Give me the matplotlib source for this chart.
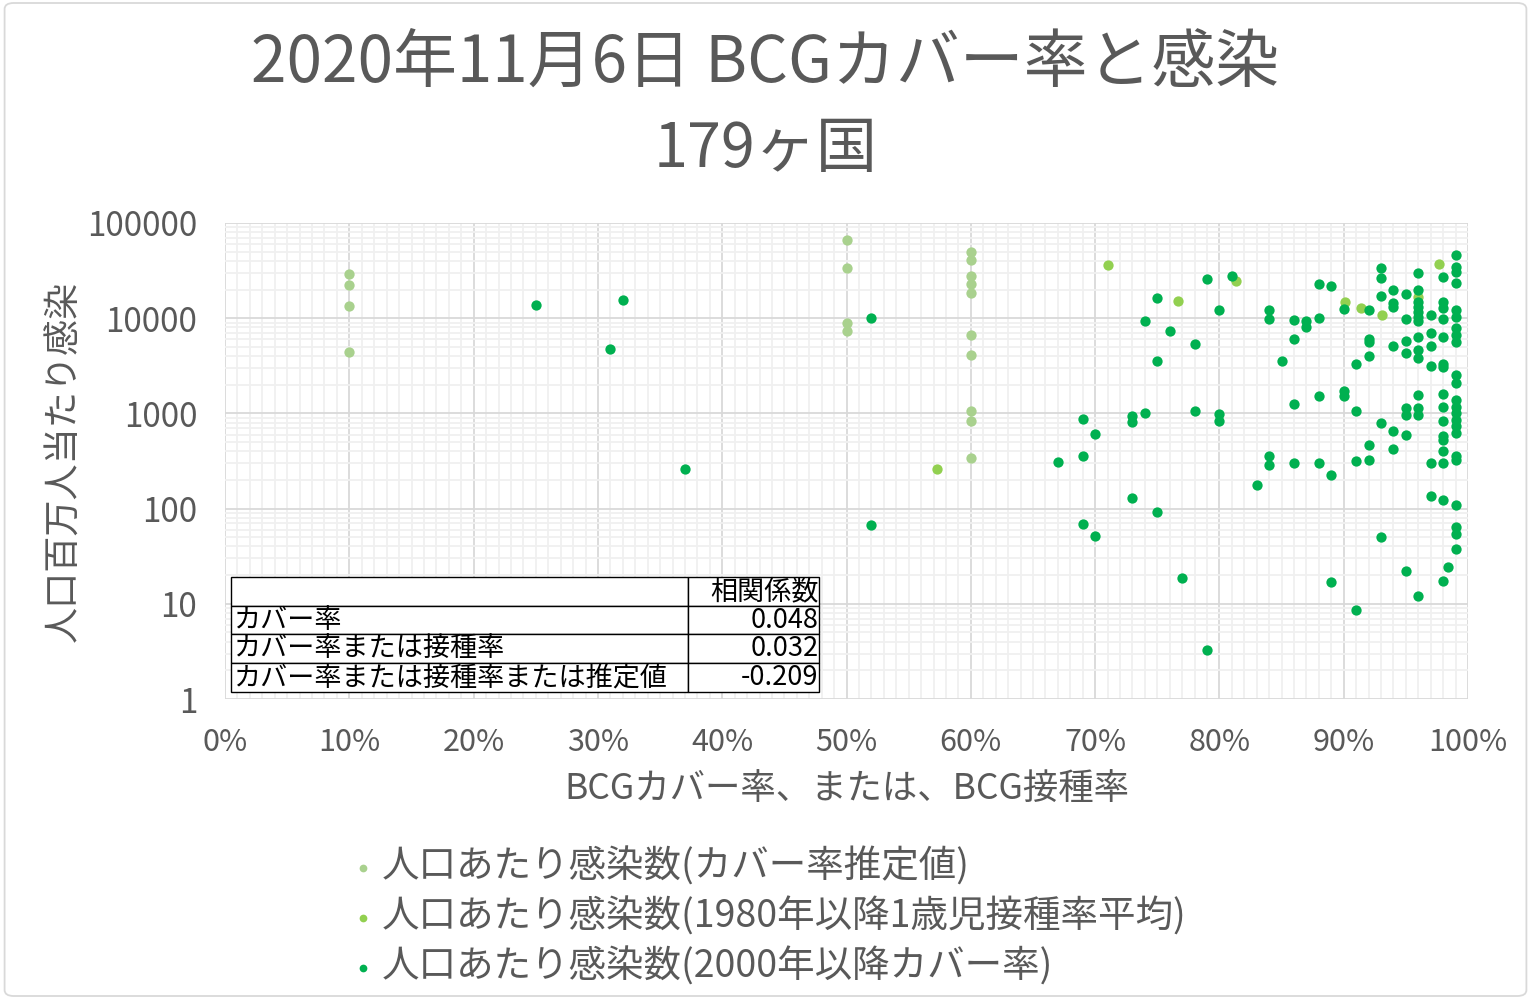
import numpy as np
import matplotlib.pyplot as plt
from matplotlib.ticker import FixedLocator, MultipleLocator, LogLocator, NullFormatter
from matplotlib.patches import FancyBboxPatch

plt.rcParams['font.family'] = ['Noto Sans CJK JP', 'DejaVu Sans']

GRAY = '#595959'

# BCG coverage (%) and infections per million people
est_x = [10, 10, 10, 10, 50, 50, 50, 50,
         60, 60, 60, 60, 60, 60, 60, 60, 60, 60]
est_y = [29200, 22300, 13550, 4430, 66300, 34000, 9000, 7360,
         49200, 40900, 28000, 22900, 18400, 6730, 4150, 1065, 822, 336]

vac_x = [57.3, 71, 76.7, 81.3, 90.1, 91.4, 93.1, 96, 97.7]
vac_y = [262, 36200, 15200, 24600, 14900, 12900, 10830, 16600, 36800]

cov_x = [25, 32, 31, 37, 52, 52,
         67, 69, 69, 69, 70, 70,
         73, 73, 73, 74, 74, 75, 75, 75, 76, 77, 78, 78, 79, 79, 80, 80, 80, 81,
         83, 84, 84, 84, 84, 85, 86, 86, 86, 86, 87, 87, 88, 88, 88, 88, 89, 89, 89,
         90, 90, 90, 91, 91, 91, 91, 92, 92, 92, 92, 92, 92,
         93, 93, 93, 93, 93, 94, 94, 94, 94, 94, 94,
         95, 95, 95, 95, 95, 95, 95, 95,
         96, 96, 96, 96, 96, 96, 96, 96, 96, 96, 96, 96, 96, 96,
         97, 97, 97, 97, 97, 97,
         98, 98, 98, 98, 98, 98, 98, 98, 98, 98, 98, 98, 98, 98, 98, 98, 98.4,
         99, 99, 99, 99, 99, 99, 99, 99, 99, 99, 99, 99, 99, 99, 99, 99, 99, 99,
         99, 99, 99, 99, 99]
cov_y = [13800, 15560, 4760, 262, 10070, 67.8,
         305, 863, 359, 69.5, 611, 51,
         950, 803, 128, 1000, 9440, 16330, 3560, 92.7, 7410, 18.8, 5370, 1065,
         25800, 3.25, 12200, 984, 836, 28000,
         178, 12200, 9840, 353, 284, 3590, 9600, 6070, 1240, 301, 9230, 8050,
         22700, 10150, 1540, 301, 22000, 227, 16.8,
         12500, 1700, 1510, 3310, 1065, 313, 8.55, 12200, 6070, 5600, 4050, 460, 320,
         33950, 26650, 17300, 791, 50, 19800, 14360, 13240, 5120, 646, 425,
         17850, 9840, 5690, 4360, 1135, 966, 596, 22.3,
         30100, 19800, 14900, 13240, 11720, 10400, 9230, 6310, 4650, 3800, 1570,
         1135, 966, 12.2,
         10830, 7060, 5120, 3160, 301, 136,
         27300, 14900, 12730, 9840, 6410, 3310, 3060, 1605, 1180, 836, 573, 525,
         398, 301, 122, 17.5, 24.2,
         46200, 34800, 30800, 23300, 12200, 10400, 7970, 6680, 5600, 2540, 2080,
         1390, 1180, 1007, 857, 729, 621, 353, 326, 110, 63.5, 54, 38]

series_labels = ['人口あたり感染数(カバー率推定値)',
                 '人口あたり感染数(1980年以降1歳児接種率平均)',
                 '人口あたり感染数(2000年以降カバー率)']
series_colors = ['#a9d18e', '#92d050', '#00b050']

corr_rows = ['カバー率', 'カバー率または接種率', 'カバー率または接種率または推定値']
corr_vals = ['0.048', '0.032', '-0.209']

fig = plt.figure(figsize=(15.31, 9.99), dpi=100)
ax = fig.add_axes([0.147, 0.3003, 0.8119, 0.4765])

for xs, ys, c, lab in zip([est_x, vac_x, cov_x], [est_y, vac_y, cov_y],
                          series_colors, series_labels):
    ax.scatter(np.array(xs) / 100, ys, s=55, color=c, label=lab,
               linewidths=0, zorder=3)

ax.set_yscale('log')
ax.set_xlim(0, 1)
ax.set_ylim(1, 100000)

ax.xaxis.set_minor_locator(MultipleLocator(0.01))
ax.set_xticks(np.arange(0, 1.01, 0.1))
ax.set_xticklabels(['%d%%' % v for v in range(0, 101, 10)])
ax.yaxis.set_major_locator(FixedLocator([1, 10, 100, 1000, 10000, 100000]))
ax.set_yticklabels(['1', '10', '100', '1000', '10000', '100000'])
ax.yaxis.set_minor_locator(LogLocator(base=10, subs=np.arange(2, 10)))
ax.yaxis.set_minor_formatter(NullFormatter())

ax.grid(which='major', color='#d9d9d9', linewidth=1.3, zorder=0)
ax.grid(which='minor', color='#f0f0f0', linewidth=1.3, zorder=0)
ax.set_axisbelow(True)
for s in ax.spines.values():
    s.set_visible(False)
ax.tick_params(which='both', length=0)
ax.tick_params(axis='x', labelsize=22, labelcolor=GRAY, pad=20)
ax.tick_params(axis='y', labelsize=24, labelcolor=GRAY, pad=20)

ax.set_xlabel('BCGカバー率、または、BCG接種率', fontsize=25.5, color=GRAY, labelpad=10)
ax.set_ylabel('人口百万人当たり感染', fontsize=26, color=GRAY, labelpad=3)

fig.text(0.5, 0.935, '2020年11月6日 BCGカバー率と感染', ha='center', va='center',
         fontsize=46, color=GRAY)
fig.text(0.5, 0.85, '179ヶ国', ha='center', va='center', fontsize=44, color=GRAY)

# correlation table
cells = [['', '相関係数']] + [[r, v] for r, v in zip(corr_rows, corr_vals)]
tbl = ax.table(cellText=cells, colWidths=[457, 131],
               bbox=[0.0048, 0.0147, 0.473, 0.2416], zorder=5)
tbl.auto_set_font_size(False)
tbl.set_fontsize(19.5)
for (r, c), cell in tbl.get_celld().items():
    cell.set_facecolor('white')
    cell.set_edgecolor('black')
    cell.set_linewidth(1.0)
    cell.get_text().set_ha('left' if c == 0 else 'right')
    cell.PAD = 0.005

leg = fig.legend(loc='upper left', bbox_to_anchor=(0.203, 0.185), frameon=False,
                 fontsize=27, labelcolor=GRAY, markerscale=0.75,
                 handletextpad=0.0, labelspacing=0.28, handlelength=1.0)

border = FancyBboxPatch((0.003, 0.003), 0.994, 0.994, boxstyle='round,pad=0,rounding_size=0.006',
                        transform=fig.transFigure, facecolor='none',
                        edgecolor='#d9d9d9', linewidth=1.3)
fig.patches.append(border)

fig.savefig('out.png', dpi=100)
